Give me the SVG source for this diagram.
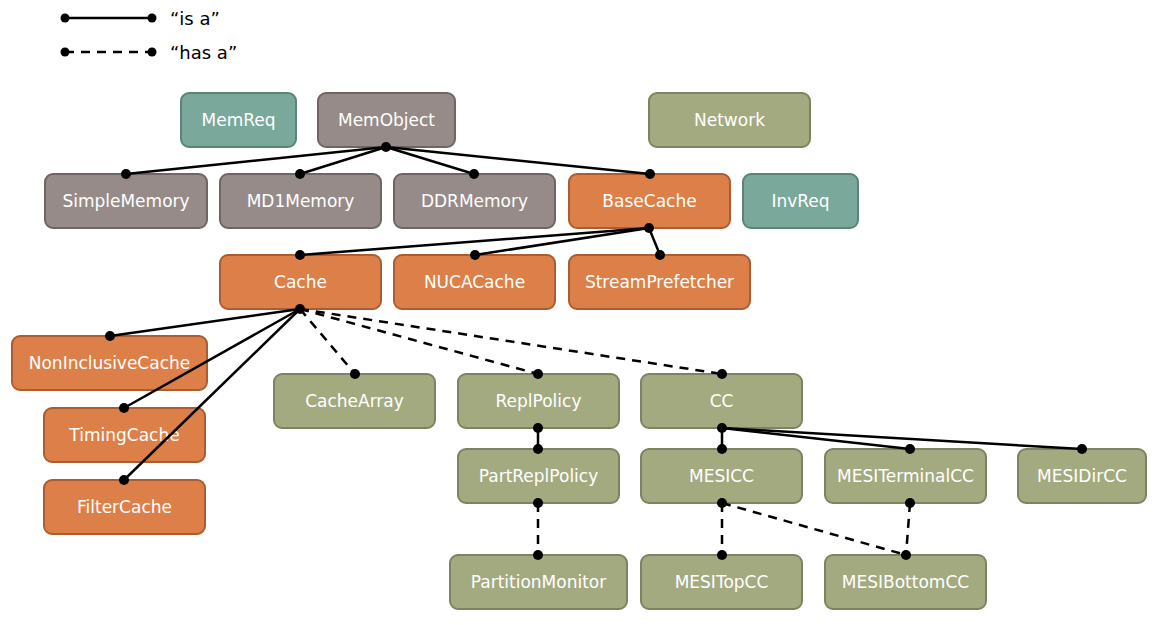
<svg xmlns="http://www.w3.org/2000/svg" width="1157" height="625" viewBox="0 0 1157 625">
<style>
.n rect{stroke-width:2}
.o rect{fill:#dd7f48;stroke:#ab5d31}
.g rect{fill:#968b89;stroke:#6f6664}
.v rect{fill:#a4aa80;stroke:#7d8262}
.t rect{fill:#7aa89b;stroke:#5b8377}
.n text{fill:#fff;font-family:"DejaVu Sans",sans-serif;font-size:17px;text-anchor:middle;dominant-baseline:central}
.c line{stroke:#000;stroke-width:2.5}
.c line.d{stroke-dasharray:9,7}
.c circle{fill:#000}
.lg{font-family:"DejaVu Sans",sans-serif;font-size:18px;fill:#000}
</style>
<g id="legend">
<g class="c"><line x1="65" y1="18" x2="152" y2="18"/><circle cx="65" cy="18" r="4.5"/><circle cx="152" cy="18" r="4.5"/>
<line class="d" x1="65" y1="52" x2="152" y2="52"/><circle cx="65" cy="52" r="4.5"/><circle cx="152" cy="52" r="4.5"/></g>
<text class="lg" x="170" y="25">“is a”</text>
<text class="lg" x="170" y="59">“has a”</text>
</g>
<g id="MemReq" class="n t"><rect x="181" y="93" width="115" height="54" rx="8"/><text x="238.5" y="120">MemReq</text></g>
<g id="MemObject" class="n g"><rect x="318" y="93" width="137" height="54" rx="8"/><text x="386.5" y="120">MemObject</text></g>
<g id="Network" class="n v"><rect x="649" y="93" width="161" height="54" rx="8"/><text x="729.5" y="120">Network</text></g>
<g id="SimpleMemory" class="n g"><rect x="45" y="174" width="162" height="54" rx="8"/><text x="126" y="201">SimpleMemory</text></g>
<g id="MD1Memory" class="n g"><rect x="220" y="174" width="161" height="54" rx="8"/><text x="300.5" y="201">MD1Memory</text></g>
<g id="DDRMemory" class="n g"><rect x="394" y="174" width="161" height="54" rx="8"/><text x="474.5" y="201">DDRMemory</text></g>
<g id="BaseCache" class="n o"><rect x="569" y="174" width="161" height="54" rx="8"/><text x="649.5" y="201">BaseCache</text></g>
<g id="InvReq" class="n t"><rect x="743" y="174" width="115" height="54" rx="8"/><text x="800.5" y="201">InvReq</text></g>
<g id="Cache" class="n o"><rect x="220" y="255" width="161" height="54" rx="8"/><text x="300.5" y="282">Cache</text></g>
<g id="NUCACache" class="n o"><rect x="394" y="255" width="161" height="54" rx="8"/><text x="474.5" y="282">NUCACache</text></g>
<g id="StreamPrefetcher" class="n o"><rect x="569" y="255" width="181" height="54" rx="8"/><text x="659.5" y="282">StreamPrefetcher</text></g>
<g id="NonInclusiveCache" class="n o"><rect x="12" y="336" width="195" height="54" rx="8"/><text x="109.5" y="363">NonInclusiveCache</text></g>
<g id="TimingCache" class="n o"><rect x="44" y="408" width="161" height="54" rx="8"/><text x="124.5" y="435">TimingCache</text></g>
<g id="FilterCache" class="n o"><rect x="44" y="480" width="161" height="54" rx="8"/><text x="124.5" y="507">FilterCache</text></g>
<g id="CacheArray" class="n v"><rect x="274" y="374" width="161" height="54" rx="8"/><text x="354.5" y="401">CacheArray</text></g>
<g id="ReplPolicy" class="n v"><rect x="458" y="374" width="161" height="54" rx="8"/><text x="538.5" y="401">ReplPolicy</text></g>
<g id="CC" class="n v"><rect x="641" y="374" width="161" height="54" rx="8"/><text x="721.5" y="401">CC</text></g>
<g id="PartReplPolicy" class="n v"><rect x="458" y="449" width="161" height="54" rx="8"/><text x="538.5" y="476">PartReplPolicy</text></g>
<g id="MESICC" class="n v"><rect x="641" y="449" width="161" height="54" rx="8"/><text x="721.5" y="476">MESICC</text></g>
<g id="MESITerminalCC" class="n v"><rect x="825" y="449" width="161" height="54" rx="8"/><text x="905.5" y="476">MESITerminalCC</text></g>
<g id="MESIDirCC" class="n v"><rect x="1018" y="449" width="128" height="54" rx="8"/><text x="1082" y="476">MESIDirCC</text></g>
<g id="PartitionMonitor" class="n v"><rect x="450" y="555" width="177" height="54" rx="8"/><text x="538.5" y="582">PartitionMonitor</text></g>
<g id="MESITopCC" class="n v"><rect x="641" y="555" width="161" height="54" rx="8"/><text x="721.5" y="582">MESITopCC</text></g>
<g id="MESIBottomCC" class="n v"><rect x="825" y="555" width="161" height="54" rx="8"/><text x="905.5" y="582">MESIBottomCC</text></g>
<g id="connectors" class="c">
<line x1="386" y1="147" x2="126" y2="174"/>
<line x1="386" y1="147" x2="300" y2="174"/>
<line x1="386" y1="147" x2="474" y2="174"/>
<line x1="386" y1="147" x2="650" y2="174"/>
<line x1="649" y1="228" x2="300" y2="255"/>
<line x1="649" y1="228" x2="475" y2="255"/>
<line x1="649" y1="228" x2="660" y2="255"/>
<line x1="300" y1="309" x2="110" y2="336"/>
<line x1="300" y1="309" x2="124" y2="408"/>
<line x1="300" y1="309" x2="124" y2="480"/>
<line class="d" x1="300" y1="309" x2="355" y2="374"/>
<line class="d" x1="300" y1="309" x2="538" y2="374"/>
<line class="d" x1="300" y1="309" x2="722" y2="374"/>
<line x1="538" y1="428" x2="538" y2="449"/>
<line class="d" x1="538" y1="503" x2="538" y2="555"/>
<line x1="722" y1="428" x2="722" y2="449"/>
<line x1="722" y1="428" x2="910" y2="449"/>
<line x1="722" y1="428" x2="1082" y2="449"/>
<line class="d" x1="722" y1="503" x2="722" y2="555"/>
<line class="d" x1="722" y1="503" x2="906" y2="555"/>
<line class="d" x1="910" y1="503" x2="906" y2="555"/>
<circle cx="386" cy="147" r="5"/>
<circle cx="126" cy="174" r="5"/><circle cx="300" cy="174" r="5"/><circle cx="474" cy="174" r="5"/><circle cx="650" cy="174" r="5"/>
<circle cx="649" cy="228" r="5"/>
<circle cx="300" cy="255" r="5"/><circle cx="475" cy="255" r="5"/><circle cx="660" cy="255" r="5"/>
<circle cx="300" cy="309" r="5"/>
<circle cx="110" cy="336" r="5"/><circle cx="124" cy="408" r="5"/><circle cx="124" cy="480" r="5"/>
<circle cx="355" cy="374" r="5"/><circle cx="538" cy="374" r="5"/><circle cx="722" cy="374" r="5"/>
<circle cx="538" cy="428" r="5"/><circle cx="538" cy="449" r="5"/>
<circle cx="538" cy="503" r="5"/><circle cx="538" cy="555" r="5"/>
<circle cx="722" cy="428" r="5"/><circle cx="722" cy="449" r="5"/><circle cx="910" cy="449" r="5"/><circle cx="1082" cy="449" r="5"/>
<circle cx="722" cy="503" r="5"/><circle cx="722" cy="555" r="5"/><circle cx="906" cy="555" r="5"/>
<circle cx="910" cy="503" r="5"/>
</g>
</svg>
